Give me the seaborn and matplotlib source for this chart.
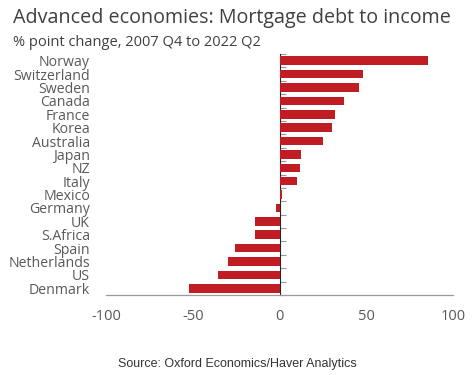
import pandas as pd
import seaborn as sns
import matplotlib.pyplot as plt

# % point change in mortgage debt to income, 2007 Q4 to 2022 Q2
countries = ["Norway", "Switzerland", "Sweden", "Canada", "France", "Korea",
             "Australia", "Japan", "NZ", "Italy", "Mexico", "Germany", "UK",
             "S.Africa", "Spain", "Netherlands", "US", "Denmark"]
change = [85.8, 48.0, 45.9, 37.2, 31.7, 30.5, 25.3, 12.5, 11.7, 10.2,
          1.5, -2.1, -14.2, -14.4, -25.5, -29.5, -35.3, -52.0]
x_ticks = [-100, -50, 0, 50, 100]

df = pd.DataFrame({"country": countries, "change": change})

sns.set_style("white")
plt.rcParams["font.family"] = ["Open Sans", "DejaVu Sans"]
plt.rcParams["axes.unicode_minus"] = False

fig = plt.figure(figsize=(4.72, 3.75), dpi=100)
ax = fig.add_axes([0.2246, 0.2133, 0.7354, 0.6427])

sns.barplot(data=df, x="change", y="country", orient="h", color="#C01C24",
            saturation=1, width=0.64, linewidth=0, ax=ax)

ax.set_xlim(-100, 100)
ax.set_ylim(len(countries) - 0.5, -0.5)
ax.set_xticks(x_ticks)
ax.set_xlabel("")
ax.set_ylabel("")

for side in ["top", "right", "left"]:
    ax.spines[side].set_visible(False)
ax.spines["bottom"].set_color("#9a9a9a")
ax.spines["bottom"].set_linewidth(0.9)

ax.tick_params(axis="x", direction="out", length=4, width=0.9, color="#9a9a9a",
               labelsize=10.5, labelcolor="#595959", pad=6)
ax.tick_params(axis="y", length=0, pad=11.5, labelsize=10.2, labelcolor="#595959")

# zero line with small ticks between categories
zero_ax = ax.secondary_yaxis(0.5)
zero_ax.set_yticks([i - 0.5 for i in range(len(countries) + 1)])
zero_ax.set_yticklabels([])
zero_ax.spines["left"].set_color("#8a8a8a")
zero_ax.spines["left"].set_linewidth(0.9)
zero_ax.tick_params(axis="y", direction="out", length=4, width=0.8, color="#9a9a9a")

fig.text(0.027, 0.952, "Advanced economies: Mortgage debt to income",
         fontsize=14.2, color="#404040", va="center", ha="left")
fig.text(0.027, 0.888, "% point change, 2007 Q4 to 2022 Q2",
         fontsize=10.5, color="#404040", va="center", ha="left")
fig.text(0.502, 0.03, "Source: Oxford Economics/Haver Analytics",
         fontsize=9, color="#333333", va="center", ha="center",
         family="Liberation Sans")

fig.savefig("out.png", dpi=100)
